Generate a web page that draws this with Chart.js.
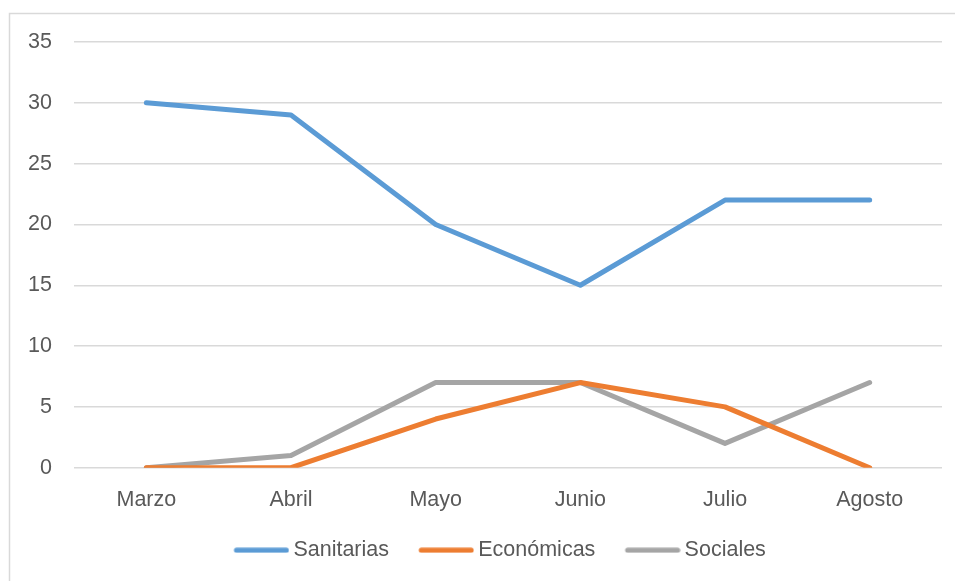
<!DOCTYPE html>
<html lang="es">
<head>
    <meta charset="UTF-8">
    <title>Chart</title>
    <script src="https://cdn.jsdelivr.net/npm/chart.js"></script>
    <style>
        html, body { margin: 0; padding: 0; background: #fff; }
        #wrap { width: 955px; height: 581px; position: relative; }
    </style>
</head>
<body>
<div id="wrap"><canvas id="myChart"></canvas></div>
<script>
// Data
const months = ["Marzo", "Abril", "Mayo", "Junio", "Julio", "Agosto"]
const sanitarias = [30, 29, 20, 15, 22, 22]
const economicas = [0, 0, 4, 7, 5, 0]
const sociales = [0, 1, 7, 7, 2, 7]

const textColor = "#595959"
const gridColor = "#d9d9d9"
const fontFamily = "'Liberation Sans', Arial, sans-serif"
const fontSize = 21.5

// legend symbol: box width and the canvas that holds the line
const symbolBox = 68.5
const symbolCanvas = symbolBox + 13.5

// Light frame on the top and left edges, like the exported chart box
const framePlugin = {
    id: "frame",
    beforeDraw(chart) {
        const ctx = chart.ctx
        ctx.save()
        ctx.strokeStyle = gridColor
        ctx.lineWidth = 1.5
        ctx.beginPath()
        ctx.moveTo(9.5, chart.height)
        ctx.lineTo(9.5, 13.5)
        ctx.lineTo(chart.width, 13.5)
        ctx.stroke()
        ctx.restore()
    }
}

// The original legend sits a bit right of centre (its box is wider than the crop)
const legendShift = {
    id: "legendShift",
    afterLayout(chart) {
        chart.legend.left += 19
        chart.legend.right += 19
    }
}

// Round-capped line drawn at the right end of a wider transparent canvas,
// so it sits close to the legend text
function legendLine(color) {
    const c = document.createElement("canvas")
    c.width = symbolCanvas
    c.height = 6
    const ctx = c.getContext("2d")
    ctx.strokeStyle = color
    ctx.lineWidth = 5
    ctx.lineCap = "round"
    ctx.beginPath()
    ctx.moveTo(symbolCanvas - 53, 3)
    ctx.lineTo(symbolCanvas - 3, 3)
    ctx.stroke()
    return c
}

function series(label, data, color) {
    return {
        label: label,
        data: data,
        borderColor: color,
        backgroundColor: color,
        borderWidth: 5,
        borderCapStyle: "round",
        borderJoinStyle: "round",
        pointRadius: 0,
        pointStyle: legendLine(color),
        tension: 0
    }
}

new Chart(document.getElementById("myChart"), {
    type: "line",
    data: {
        labels: months,
        datasets: [
            series("Sanitarias", sanitarias, "#5b9bd5"),
            series("Económicas", economicas, "#ed7d31"),
            series("Sociales", sociales, "#a5a5a5")
        ]
    },
    options: {
        responsive: true,
        maintainAspectRatio: false,
        animation: false,
        layout: { padding: { top: 42, right: 13, left: 0, bottom: 10 } },
        scales: {
            x: {
                offset: true,
                grid: { display: false },
                border: { display: false },
                ticks: { color: textColor, font: { family: fontFamily, size: fontSize }, padding: 11 },
                afterFit(scale) { scale.height += 6 }
            },
            y: {
                min: 0,
                max: 35,
                ticks: { stepSize: 5, color: textColor, font: { family: fontFamily, size: fontSize }, padding: 22 },
                grid: { color: gridColor, lineWidth: 1.5, drawTicks: false },
                border: { display: false },
                afterFit(scale) { scale.width = 74 }
            }
        },
        plugins: {
            legend: {
                position: "bottom",
                labels: {
                    color: textColor,
                    font: { family: fontFamily, size: fontSize },
                    usePointStyle: true,
                    pointStyleWidth: symbolBox,
                    padding: 10
                }
            },
            tooltip: { enabled: false }
        }
    },
    plugins: [framePlugin, legendShift]
})
</script>
</body>
</html>
